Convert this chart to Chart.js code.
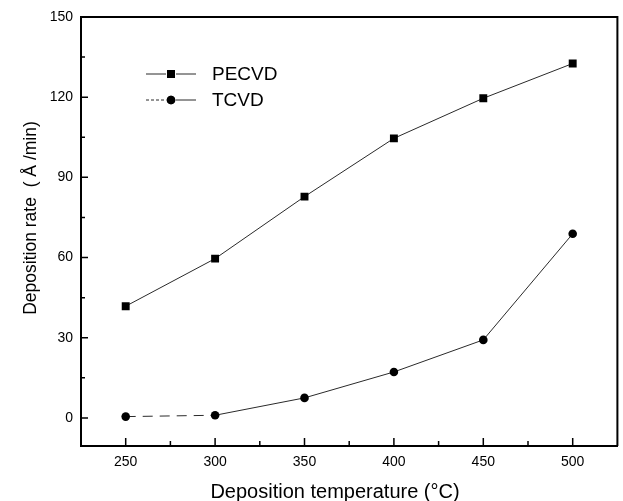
<!DOCTYPE html>
<html><head><meta charset="utf-8">
<script src="https://cdn.jsdelivr.net/npm/chart.js@4.4.0/dist/chart.umd.min.js"></script>
<style>html,body{margin:0;padding:0;background:#fff}#wrap{width:623px;height:501px}</style>
</head><body><div id="wrap"><canvas id="c" width="623" height="501"></canvas></div>
<script>
const temperatures = [250, 300, 350, 400, 450, 500];
const pecvdRate = [41.8, 59.6, 82.8, 104.6, 119.6, 132.6];
const tcvdRate = [0.5, 1.0, 7.5, 17.2, 29.2, 68.9];
const xTickValues = [250, 300, 350, 400, 450, 500];
const yTickValues = [0, 30, 60, 90, 120, 150];
const xMinorTicks = [275, 325, 375, 425, 475];
const yMinorTicks = [15, 45, 75, 105, 135];
const seriesNames = ['PECVD', 'TCVD'];
const xTitle = 'Deposition temperature (°C)';
const yTitle = 'Deposition rate  ( Å /min)';

const FONT = '"Liberation Sans", Arial, sans-serif';
const lineCol = '#2a2a2a';

const decor = {
  id: 'decor',
  afterDraw(chart) {
    const {ctx, chartArea: a, scales: {x, y}} = chart;
    ctx.save();
    ctx.strokeStyle = '#000';
    // top and right frame
    ctx.lineWidth = 2;
    ctx.beginPath();
    ctx.moveTo(a.left, a.top); ctx.lineTo(a.right, a.top); ctx.lineTo(a.right, a.bottom);
    ctx.stroke();
    // inward ticks
    ctx.lineWidth = 1.5;
    ctx.beginPath();
    xTickValues.forEach(v => { const px = x.getPixelForValue(v); ctx.moveTo(px, a.bottom); ctx.lineTo(px, a.bottom - 8); });
    xMinorTicks.forEach(v => { const px = x.getPixelForValue(v); ctx.moveTo(px, a.bottom); ctx.lineTo(px, a.bottom - 5); });
    yTickValues.forEach(v => { const py = y.getPixelForValue(v); ctx.moveTo(a.left, py); ctx.lineTo(a.left + 7, py); });
    yMinorTicks.forEach(v => { const py = y.getPixelForValue(v); ctx.moveTo(a.left, py); ctx.lineTo(a.left + 4, py); });
    ctx.stroke();

    // axis titles
    ctx.fillStyle = '#000';
    ctx.textAlign = 'center';
    ctx.textBaseline = 'middle';
    ctx.font = '20px ' + FONT;
    ctx.fillText(xTitle, 335, 492);
    ctx.save();
    ctx.font = '17.5px ' + FONT;
    ctx.translate(31, 218);
    ctx.rotate(-Math.PI / 2);
    ctx.fillText(yTitle, 0, 0);
    ctx.restore();

    // legend
    const items = chart.data.datasets;
    const rows = [74, 100];
    items.forEach((ds, i) => {
      const yy = rows[i];
      ctx.strokeStyle = lineCol;
      ctx.lineWidth = 1;
      ctx.setLineDash(i === 1 ? [3, 2] : []);
      ctx.beginPath(); ctx.moveTo(146, yy); ctx.lineTo(166, yy); ctx.stroke();
      ctx.setLineDash([]);
      ctx.beginPath(); ctx.moveTo(176, yy); ctx.lineTo(196, yy); ctx.stroke();
      ctx.fillStyle = '#000';
      Chart.helpers.drawPoint(ctx, {pointStyle: ds.pointStyle, radius: ds.pointRadius, borderWidth: 0, rotation: 0}, 171, yy);
      ctx.fill();
      ctx.font = '19px ' + FONT;
      ctx.textAlign = 'left';
      ctx.fillText(ds.label, 212, yy + 1);
    });
    ctx.restore();
  }
};

new Chart(document.getElementById('c'), {
  type: 'line',
  data: {
    datasets: [
      {
        label: seriesNames[0],
        data: temperatures.map((t, i) => ({x: t, y: pecvdRate[i]})),
        borderColor: lineCol, borderWidth: 1,
        pointStyle: 'rect', pointRadius: 5.6,
        pointBackgroundColor: '#000', pointBorderWidth: 0
      },
      {
        label: seriesNames[1],
        data: temperatures.map((t, i) => ({x: t, y: tcvdRate[i]})),
        borderColor: lineCol, borderWidth: 1,
        pointStyle: 'circle', pointRadius: 4.3,
        pointBackgroundColor: '#000', pointBorderWidth: 0,
        segment: { borderDash: c => c.p0DataIndex === 0 ? [10, 7] : undefined }
      }
    ]
  },
  options: {
    responsive: false,
    animation: false,
    devicePixelRatio: 1,
    layout: {padding: {left: 0, right: 4, top: 17, bottom: 0}},
    plugins: {legend: {display: false}, tooltip: {enabled: false}},
    scales: {
      x: {
        type: 'linear', min: 225, max: 525,
        afterBuildTicks: s => { s.ticks = xTickValues.map(v => ({value: v})); },
        afterFit: s => { s.height = 55; },
        grid: {display: false, drawTicks: false},
        border: {display: true, color: '#000', width: 2},
        ticks: {color: '#000', font: {family: FONT, size: 14}, padding: 8, autoSkip: false, maxRotation: 0}
      },
      y: {
        type: 'linear', min: -10.5, max: 150,
        afterBuildTicks: s => { s.ticks = yTickValues.map(v => ({value: v})); },
        afterFit: s => { s.width = 81; },
        grid: {display: false, drawTicks: false},
        border: {display: true, color: '#000', width: 2},
        ticks: {color: '#000', font: {family: FONT, size: 14}, padding: 8}
      }
    }
  },
  plugins: [decor]
});
</script></body></html>
